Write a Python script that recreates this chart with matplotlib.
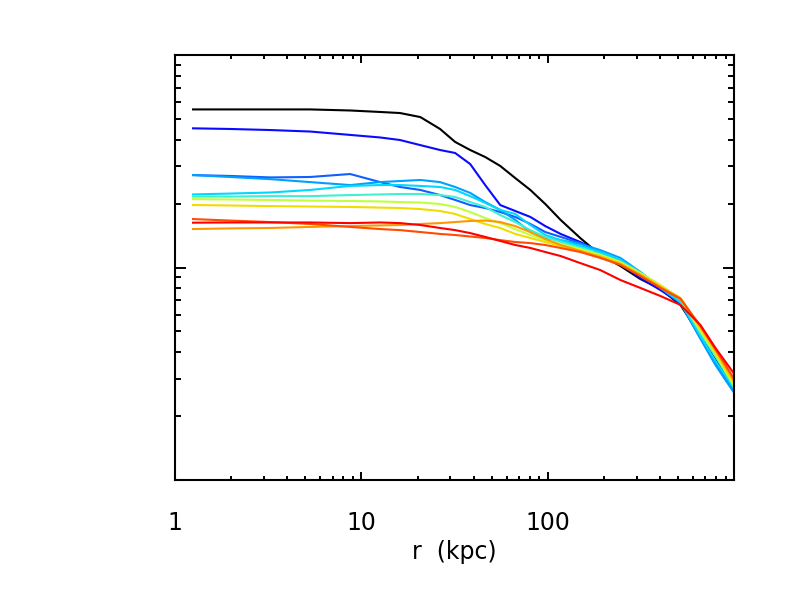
import numpy as np
import matplotlib
matplotlib.use("Agg")
import matplotlib.pyplot as plt
from matplotlib.ticker import LogLocator, NullFormatter, FixedLocator, FixedFormatter

# radius grid shared by all profiles (kpc)
r_kpc = [1.25, 1.97, 3.24, 5.3, 8.7, 12.6, 16.1, 20.7, 26.4, 31.8, 38.3, 46.1, 55.5,
         66.8, 80.5, 96.8, 117, 149, 191, 245, 313, 401, 514, 658, 792, 990]

# log10 of the (unlabelled) profile value
logy_black = [.744, .744, .744, .744, .739, .732, .727, .708, .652, .591, .553, .520, .478,
              .421, .365, .299, .224, .139, .059, .007, -.054, -.101, -.176, -.322, -.435, -.567]
logy_blue = [.655, .652, .647, .640, .624, .612, .600, .576, .553, .539, .487, .388, .294,
             .266, .238, .195, .158, .120, .073, .016, -.049, -.106, -.167, -.332, -.454, -.581]
logy_midblue = [.435, .431, .424, .426, .440, .402, .379, .365, .341, .318, .294, .280, .261,
                .238, .205, .167, .144, .115, .073, .026, -.031, -.096, -.162, -.327, -.445, -.572]
logy_ltblue = [.435, .426, .416, .402, .388, .402, .407, .412, .402, .379, .351, .308, .271,
               .224, .167, .139, .129, .111, .082, .045, -.021, -.096, -.167, -.336, -.459, -.586]
logy_cyan = [.344, .348, .353, .365, .384, .388, .388, .384, .379, .365, .336, .304, .271,
             .252, .200, .153, .129, .101, .073, .035, -.021, -.092, -.162, -.322, -.440, -.567]
logy_teal = [.334, .334, .336, .336, .341, .344, .346, .346, .341, .332, .308, .285, .247,
             .214, .176, .144, .120, .092, .064, .026, -.026, -.087, -.153, -.308, -.416, -.558]
logy_ygreen = [.322, .320, .318, .315, .313, .311, .308, .306, .299, .285, .261, .233, .209,
               .181, .153, .129, .111, .087, .059, .026, -.026, -.082, -.148, -.299, -.407, -.553]
logy_yellow = [.294, .292, .289, .287, .285, .282, .280, .275, .266, .252, .228, .205, .186,
               .158, .139, .120, .101, .078, .054, .021, -.031, -.087, -.144, -.289, -.398, -.544]
logy_orange = [.181, .184, .186, .191, .195, .198, .200, .205, .209, .214, .219, .221, .214,
               .195, .167, .134, .106, .078, .049, .016, -.035, -.092, -.144, -.280, -.388, -.529]
logy_orred = [.228, .221, .214, .205, .191, .181, .176, .167, .158, .153, .146, .139, .129,
              .120, .115, .106, .092, .073, .045, .012, -.040, -.096, -.148, -.275, -.384, -.520]
logy_red = [.211, .212, .212, .212, .209, .212, .209, .200, .186, .176, .162, .144, .125,
            .106, .092, .073, .054, .021, -.012, -.059, -.096, -.134, -.176, -.271, -.379, -.496]

profiles = [logy_black, logy_blue, logy_midblue, logy_ltblue, logy_cyan, logy_teal,
            logy_ygreen, logy_yellow, logy_orange, logy_orred, logy_red]
colors = ['#000000', '#0a0aff', '#1060ff', '#00a0ff', '#00d8ff', '#40f0d0',
          '#c0ff40', '#f0dc00', '#ff9800', '#ff4c00', '#ff0000']

x_ticks = [1, 10, 100]
x_labels = ['1', '10', '100']

plt.rcParams['font.family'] = ['DejaVu Sans']

fig = plt.figure(figsize=(7.86, 5.91), dpi=100)
ax = fig.add_axes([0.2226, 0.1878, 0.7112, 0.7191])

# draw in reverse so the black curve lands on top of the colored ones where they overlap
for logy, c in zip(profiles, colors):
    ax.plot(r_kpc, 10 ** np.array(logy), color=c, lw=1.5)

ax.set_xscale('log')
ax.set_yscale('log')
ax.set_xlim(1, 995)
ax.set_ylim(0.1, 10)

ax.xaxis.set_major_locator(FixedLocator(x_ticks))
ax.xaxis.set_major_formatter(FixedFormatter(x_labels))
ax.xaxis.set_minor_locator(LogLocator(base=10, subs=np.arange(2, 10)))
ax.xaxis.set_minor_formatter(NullFormatter())
ax.yaxis.set_major_locator(FixedLocator([1]))
ax.yaxis.set_minor_locator(LogLocator(base=10, subs=np.arange(2, 10)))
ax.yaxis.set_major_formatter(NullFormatter())
ax.yaxis.set_minor_formatter(NullFormatter())

ax.tick_params(which='both', direction='in', top=True, right=True, width=1.4)
ax.tick_params(axis='x', which='major', length=6, pad=22, labelsize=17)
ax.tick_params(axis='x', which='minor', length=3)
ax.tick_params(axis='y', which='major', length=8)
ax.tick_params(axis='y', which='minor', length=4)
for s in ax.spines.values():
    s.set_linewidth(1.5)

ax.set_xlabel('r  (kpc)', fontsize=17, labelpad=4)

fig.savefig('out.png', dpi=100)
